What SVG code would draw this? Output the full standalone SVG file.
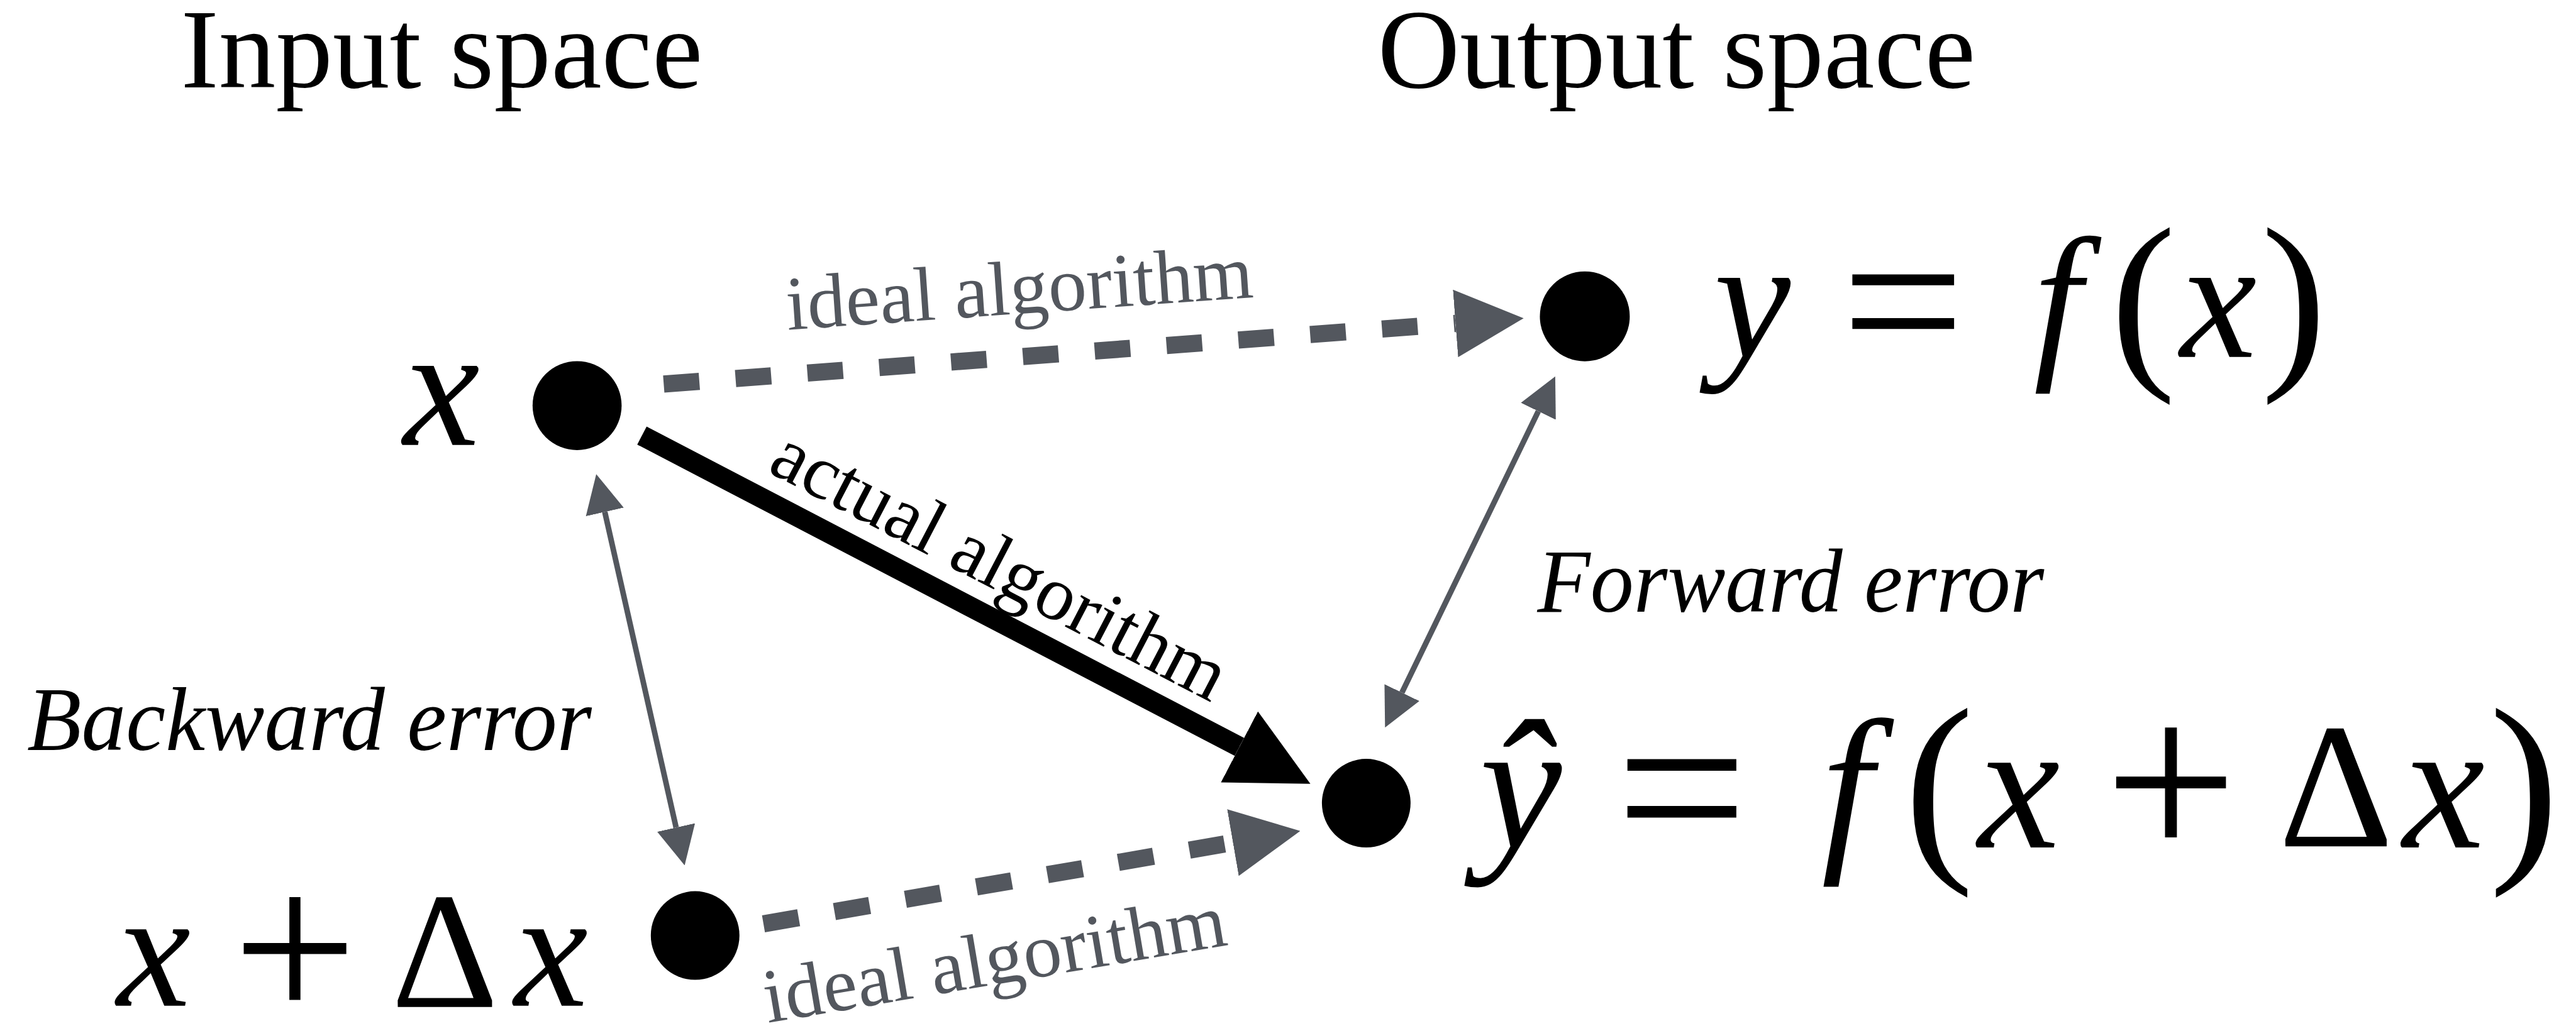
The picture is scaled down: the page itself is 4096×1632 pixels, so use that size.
<svg xmlns="http://www.w3.org/2000/svg" width="4096" height="1632" viewBox="0 0 4096 1632">
<defs>
<style>
text{font-family:"Liberation Serif","Times New Roman",serif;fill:#000}
.head{font-size:185px;text-anchor:middle}
.err{font-size:148px;font-style:italic}
.lbl{font-size:125px}
.gray{fill:#53575e}
.m{font-size:280px;text-anchor:middle}
.it{font-style:italic}
.node{fill:#000}
.dash{fill:none;stroke:#53575e;stroke-width:28;stroke-dasharray:58 59}
.thin{fill:none;stroke:#53575e;stroke-width:9}
.thick{fill:none;stroke:#000;stroke-width:33}
</style>
<marker id="headGray" markerUnits="userSpaceOnUse" viewBox="0 0 111 110" markerWidth="111" markerHeight="110" refX="0" refY="55" orient="auto"><path d="M0,0L111,55L0,110z" fill="#53575e"/></marker>
<marker id="headBlack" markerUnits="userSpaceOnUse" viewBox="0 0 130 130" markerWidth="130" markerHeight="130" refX="0" refY="65" orient="auto"><path d="M0,0L130,65L0,130z" fill="#000"/></marker>
<marker id="headThin" markerUnits="userSpaceOnUse" viewBox="0 0 63 63" markerWidth="63" markerHeight="63" refX="0" refY="31.5" orient="auto-start-reverse"><path d="M0,0L63,31.5L0,63z" fill="#53575e"/></marker>
</defs>
<rect width="4096" height="1632" fill="#fff"/>
<g transform="scale(0.979)">
<g id="headings">
<text class="head" x="717.5" y="142">Input space</text>
<text class="head" x="2723" y="142">Output space</text>
</g>
<g id="connectors">
<path id="ideal-top" class="dash" d="M1078,624 L2364,525.5" marker-end="url(#headGray)"/>
<path id="ideal-bottom" class="dash" d="M1240,1501 L2002.5,1369" marker-end="url(#headGray)"/>
<path id="actual" class="thick" d="M1042.6,707.7 L2013,1213.5" marker-end="url(#headBlack)"/>
<path id="backward" class="thin" d="M982.3,831.8 L1098.1,1344.5" marker-start="url(#headThin)" marker-end="url(#headThin)"/>
<path id="forward" class="thin" d="M2498.5,668.2 L2277,1125.3" marker-start="url(#headThin)" marker-end="url(#headThin)"/>
<text class="lbl gray" transform="translate(1279,536) rotate(-4)">ideal algorithm</text>
<text class="lbl gray" transform="translate(1247,1662) rotate(-9.6)">ideal algorithm</text>
<text class="lbl" transform="translate(1244,765) rotate(27.5)">actual algorithm</text>
<text class="err" x="44" y="1219" textLength="917" lengthAdjust="spacingAndGlyphs">Backward error</text>
<text class="err" x="2497" y="994" textLength="823" lengthAdjust="spacingAndGlyphs">Forward error</text>
</g>
<g id="node-x">
<circle class="node" cx="937.3" cy="659" r="72.3"/>
<text class="m it" x="717" y="723">x</text>
</g>
<g id="node-y">
<circle class="node" cx="2574" cy="514" r="73"/>
<text class="m"><tspan class="it" x="2846" y="580">y</tspan><tspan x="3091" y="608" font-size="355">=</tspan><tspan class="it" x="3342" y="580">f</tspan><tspan x="3481" y="590" font-size="318">(</tspan><tspan class="it" x="3603" y="580">x</tspan><tspan x="3725.5" y="590" font-size="318">)</tspan></text>
</g>
<g id="node-yhat">
<circle class="node" cx="2219" cy="1305" r="72"/>
<text class="m" style="font-size:300px"><tspan class="it" x="2470" y="1377">ŷ</tspan><tspan x="2731.5" y="1407" font-size="380">=</tspan><tspan class="it" x="3000" y="1377">f</tspan><tspan x="3149.5" y="1386" font-size="340">(</tspan><tspan class="it" x="3279" y="1377">x</tspan><tspan x="3526" y="1398.5" font-size="383">+</tspan><tspan x="3794" y="1375" font-size="290">Δ</tspan><tspan class="it" x="3969" y="1377">x</tspan><tspan x="4099.5" y="1386" font-size="340">)</tspan></text>
</g>
<g id="node-xdx">
<circle class="node" cx="1129" cy="1520" r="72"/>
<text class="m" style="font-size:270px"><tspan class="it" x="249.5" y="1634">x</tspan><tspan x="479" y="1660" font-size="358">+</tspan><tspan x="722.5" y="1636">Δ</tspan><tspan class="it" x="895" y="1634">x</tspan></text>
</g>
</g>
</svg>
